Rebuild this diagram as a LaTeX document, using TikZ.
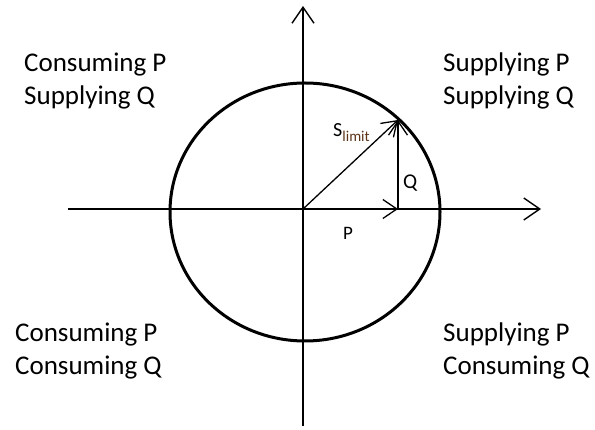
\documentclass[tikz,border=0pt]{standalone}
\usepackage{fontspec}
\setmainfont{Carlito}
\usetikzlibrary{arrows.meta}
\definecolor{subbrown}{HTML}{5C3317}
\begin{document}
\begin{tikzpicture}[x=1pt,y=-1pt,
  axis/.style={line width=1.4pt,-{Straight Barb[length=16pt,width=22pt,line width=1.4pt]}},
  vec/.style={line width=1.3pt,-{Straight Barb[length=14pt,width=19pt,line width=1.3pt]}},
  quad/.style={anchor=base west,inner sep=0pt,font=\fontsize{27}{33}\selectfont},
  lab/.style={anchor=base west,inner sep=0pt}]
\useasboundingbox (0,0) rectangle (595,430);
\coordinate (O) at (303,209);
\coordinate (Yb) at (303,426);
\coordinate (Yt) at (303,6);
\coordinate (Xl) at (68,209);
\coordinate (Xr) at (541,209);
\coordinate (S) at (398,120);
\coordinate (Pe) at (398,209);
% circle
\draw[line width=3pt] (305,212) ellipse [x radius=135, y radius=129];
% axes
\draw[axis] (Yb) -- (Yt);
\draw[axis] (Xl) -- (Xr);
% vectors
\draw[vec] (O) -- (S);
\draw[vec] (O) -- (Pe);
\draw[vec] (Pe) -- (S);
% labels
\node[lab,font=\fontsize{20}{20}\selectfont] (sl) at (333,137) {S{\fontsize{15}{15}\selectfont\raisebox{-5pt}{\color{subbrown}limit}}};
\node[lab,font=\fontsize{21}{21}\selectfont] (q) at (403,189) {Q};
\node[lab,font=\fontsize{19}{19}\selectfont] (p) at (343,240) {P};
% quadrant texts
\node[quad] (tl1) at (24,72) {Consuming P};
\node[quad] (tl2) at (24,105) {Supplying Q};
\node[quad] (tr1) at (443,72) {Supplying P};
\node[quad] (tr2) at (443,105) {Supplying Q};
\node[quad] (bl1) at (15,342) {Consuming P};
\node[quad] (bl2) at (15,375) {Consuming Q};
\node[quad] (br1) at (443,342) {Supplying P};
\node[quad] (br2) at (443,375) {Consuming Q};
\end{tikzpicture}
\end{document}
